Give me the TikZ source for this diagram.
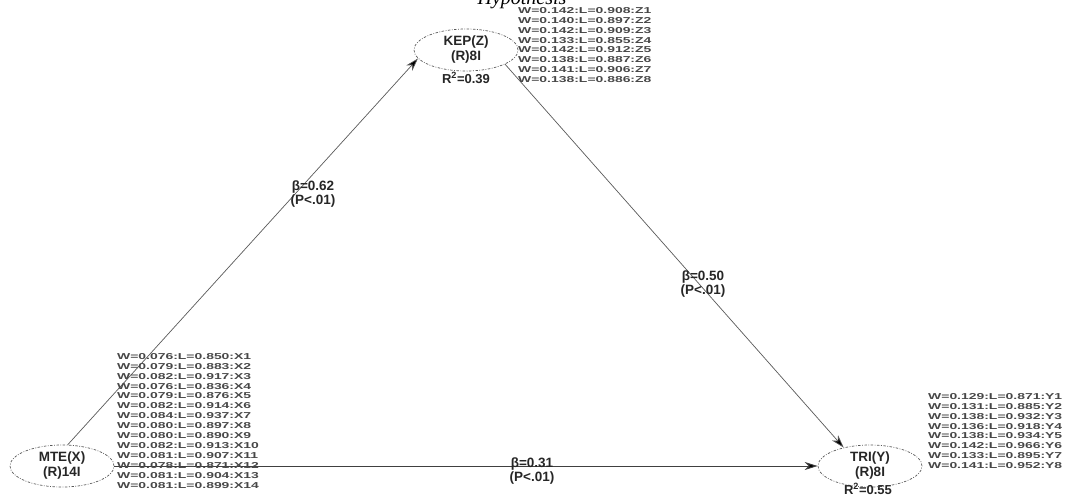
\documentclass[tikz,border=0pt]{standalone}
\usepackage{fontspec}
\setmainfont{Liberation Sans}
\newfontfamily\titlefont{Liberation Serif}
\usetikzlibrary{shapes.geometric,arrows.meta}
\tikzset{
  lat/.style={ellipse, draw=black!65, line width=0.7pt, dash pattern=on 2.5pt off 1.5pt on 0.8pt off 1.5pt,
    minimum width=104pt, minimum height=42pt, inner sep=0pt, align=center,
    font=\fontsize{13.5}{15}\selectfont\bfseries, text=black!85},
  path/.style={draw=black!65, line width=0.7pt, -{Stealth[length=13pt,width=8pt,inset=4pt,fill=black]}},
  lbl/.style={align=center, font=\fontsize{13.5}{14.5}\selectfont\bfseries, inner sep=0pt, text=black!85},
  rsq/.style={font=\fontsize{13}{14}\selectfont\bfseries, inner sep=0pt, text=black!85},
  lst/.style={anchor=north west, inner sep=0pt, text=black!72}
}
\newcommand{\wlist}[1]{\scalebox{1.62}[1]{\fontsize{8.6}{9.95}\selectfont\bfseries\begin{tabular}{@{}l@{}}#1\end{tabular}}}
\begin{document}
\begin{tikzpicture}[x=1pt,y=-1pt]
\useasboundingbox (0,0) rectangle (1092,495);
\node[inner sep=0pt, anchor=base, font=\titlefont\itshape\fontsize{20}{22}\selectfont] (title) at (522,5) {Hypothesis};

\node[lat] (kep) at (466,50) {KEP(Z)\\(R)8I};
\node[lat] (mte) at (62,466) {MTE(X)\\(R)14I};
\node[lat] (tri) at (870,466) {TRI(Y)\\(R)8I};

\node[rsq] (r2kep) at (466,78) {R\textsuperscript{2}=0.39};
\node[rsq] (r2tri) at (868,489) {R\textsuperscript{2}=0.55};

\draw[path] (mte.75) -- (kep.190);
\draw[path] (kep.-20) -- (tri.145);
\draw[path, draw=black!75, line width=0.9pt] (mte.east) -- (tri.west);

\node[lbl] (b1) at (313,194) {β=0.62\\(P<.01)};
\node[lbl] (b2) at (703,284) {β=0.50\\(P<.01)};
\node[lbl] (b3) at (532,471) {β=0.31\\(P<.01)};

\node[lst] (zl) at (518,6) {\wlist{W=0.142:L=0.908:Z1\\W=0.140:L=0.897:Z2\\W=0.142:L=0.909:Z3\\W=0.133:L=0.855:Z4\\W=0.142:L=0.912:Z5\\W=0.138:L=0.887:Z6\\W=0.141:L=0.906:Z7\\W=0.138:L=0.886:Z8}};
\node[lst] (xl) at (117,352) {\wlist{W=0.076:L=0.850:X1\\W=0.079:L=0.883:X2\\W=0.082:L=0.917:X3\\W=0.076:L=0.836:X4\\W=0.079:L=0.876:X5\\W=0.082:L=0.914:X6\\W=0.084:L=0.937:X7\\W=0.080:L=0.897:X8\\W=0.080:L=0.890:X9\\W=0.082:L=0.913:X10\\W=0.081:L=0.907:X11\\W=0.078:L=0.871:X12\\W=0.081:L=0.904:X13\\W=0.081:L=0.899:X14}};
\node[lst] (yl) at (928,392) {\wlist{W=0.129:L=0.871:Y1\\W=0.131:L=0.885:Y2\\W=0.138:L=0.932:Y3\\W=0.136:L=0.918:Y4\\W=0.138:L=0.934:Y5\\W=0.142:L=0.966:Y6\\W=0.133:L=0.895:Y7\\W=0.141:L=0.952:Y8}};
\end{tikzpicture}
\end{document}
